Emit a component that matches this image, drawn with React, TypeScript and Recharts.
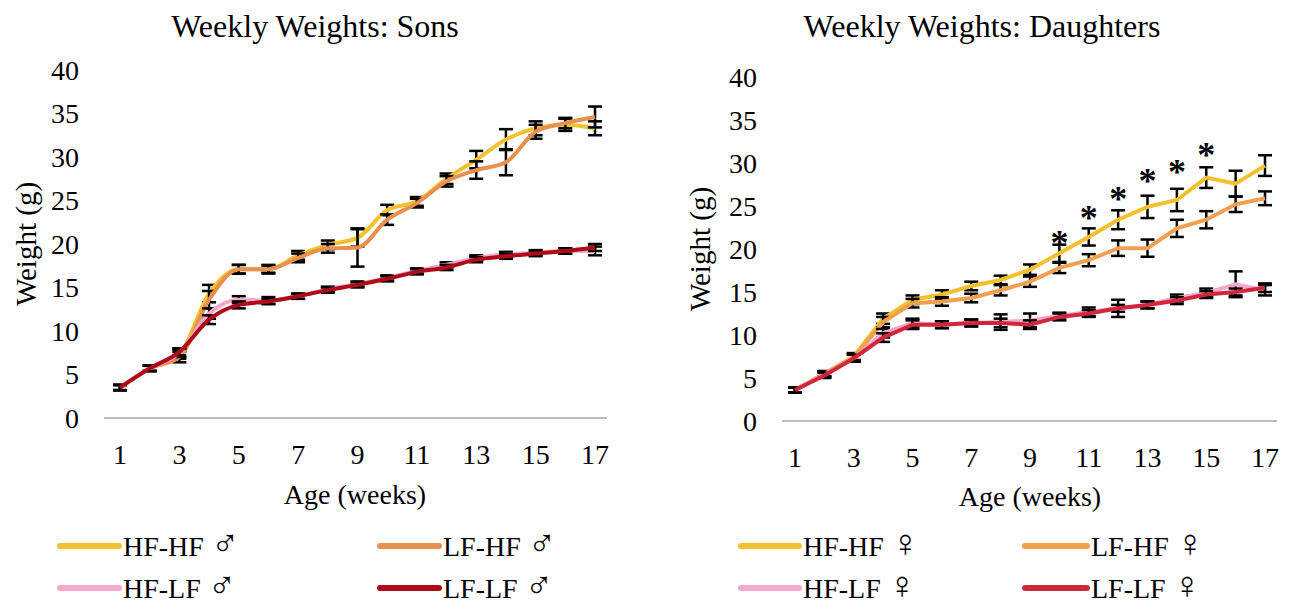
import {
  ComposedChart,
  Line,
  XAxis,
  YAxis,
  ErrorBar,
} from 'recharts';

// weeks of age on the x axis
const weeks = [1, 2, 3, 4, 5, 6, 7, 8, 9, 10, 11, 12, 13, 14, 15, 16, 17];
const xTicks = [1, 3, 5, 7, 9, 11, 13, 15, 17];
const yTicks = [0, 5, 10, 15, 20, 25, 30, 35, 40];

// sons (g)
const sonsHH = [3.5, 5.7, 7.3, 14.3, 17.1, 17.1, 18.7, 19.9, 20.7, 23.9, 24.9, 27.5, 29.7, 32.0, 33.3, 33.7, 33.3];
const sonsLH = [3.5, 5.7, 7.0, 13.6, 17.1, 17.1, 18.4, 19.5, 19.6, 22.8, 24.7, 27.2, 28.5, 29.4, 32.9, 33.9, 34.6];
const sonsHL = [3.5, 5.7, 7.5, 12.0, 13.6, 13.5, 14.0, 14.8, 15.4, 16.1, 16.9, 17.6, 18.4, 18.8, 19.0, 19.2, 19.2];
const sonsLL = [3.5, 5.7, 7.6, 11.3, 13.0, 13.4, 14.0, 14.7, 15.3, 16.0, 16.8, 17.3, 18.2, 18.6, 18.9, 19.2, 19.6];
const sonsHHErr = [0.3, 0.3, 0.5, 1.0, 0.5, 0.4, 0.5, 0.5, 1.0, 0.6, 0.5, 0.6, 1.0, 1.2, 0.8, 0.7, 0.8];
const sonsLHErr = [0.3, 0.3, 0.6, 1.0, 0.5, 0.5, 0.5, 0.5, 2.2, 0.6, 0.5, 0.6, 1.0, 1.5, 0.8, 0.6, 1.2];
const sonsHLErr = [0.3, 0.3, 0.5, 0.6, 0.4, 0.4, 0.3, 0.3, 0.3, 0.3, 0.3, 0.3, 0.3, 0.3, 0.3, 0.3, 0.5];
const sonsLLErr = [0.3, 0.3, 0.4, 0.5, 0.4, 0.3, 0.3, 0.3, 0.3, 0.3, 0.3, 0.3, 0.3, 0.3, 0.3, 0.3, 0.4];

// daughters (g)
const dauHH = [3.6, 5.5, 7.5, 11.9, 14.1, 14.7, 15.7, 16.4, 17.6, 19.5, 21.4, 23.4, 24.9, 25.7, 28.3, 27.6, 29.7];
const dauLH = [3.6, 5.5, 7.4, 11.5, 13.7, 13.9, 14.3, 15.2, 16.2, 17.8, 18.7, 20.1, 20.1, 22.4, 23.4, 25.2, 25.9];
const dauHL = [3.6, 5.4, 7.3, 10.2, 11.4, 11.2, 11.4, 11.5, 11.7, 12.2, 12.7, 13.1, 13.5, 14.3, 14.9, 15.9, 15.2];
const dauLL = [3.6, 5.3, 7.3, 9.7, 11.2, 11.2, 11.4, 11.4, 11.2, 12.1, 12.5, 13.1, 13.5, 14.0, 14.7, 15.0, 15.5];
const dauHHErr = [0.3, 0.3, 0.4, 0.6, 0.5, 0.5, 0.5, 0.5, 0.6, 1.0, 1.0, 1.1, 1.3, 1.3, 1.2, 1.5, 1.2];
const dauLHErr = [0.3, 0.3, 0.4, 0.6, 0.5, 0.5, 0.5, 0.6, 0.6, 0.6, 0.7, 0.9, 1.0, 1.0, 1.0, 0.9, 0.8];
const dauHLErr = [0.3, 0.3, 0.4, 0.5, 0.5, 0.4, 0.4, 0.9, 0.8, 0.4, 0.5, 1.0, 0.4, 0.4, 0.5, 1.5, 0.6];
const dauLLErr = [0.3, 0.3, 0.4, 0.5, 0.5, 0.4, 0.4, 0.5, 0.5, 0.4, 0.4, 0.4, 0.4, 0.4, 0.4, 0.4, 0.5];
// asterisks (significance) above HF-HF daughters
const dauSig = [null, null, null, null, null, null, null, null, null, 21.4, 24.3, 26.5, 28.6, 29.6, 31.6, null, null];

const FONT = '"Liberation Serif", "Times New Roman", serif';

const sonsColors = ['#f4c12e', '#e8904f', '#f3a8cc', '#ad0c18'];
const dauColors = ['#f4c12e', '#f0a04e', '#f3a8cc', '#d0283a'];

const sonsData = weeks.map((w, i) => ({
  week: w,
  hh: sonsHH[i], hhErr: sonsHHErr[i],
  lh: sonsLH[i], lhErr: sonsLHErr[i],
  hl: sonsHL[i], hlErr: sonsHLErr[i],
  ll: sonsLL[i], llErr: sonsLLErr[i],
}));

const dauData = weeks.map((w, i) => ({
  week: w,
  hh: dauHH[i], hhErr: dauHHErr[i],
  lh: dauLH[i], lhErr: dauLHErr[i],
  hl: dauHL[i], hlErr: dauHLErr[i],
  ll: dauLL[i], llErr: dauLLErr[i],
  sig: dauSig[i],
}));

const renderStar = (props: any) => {
  const { cx, cy, value, index } = props;
  if (value == null || cy == null) return <g key={`s${index}`} />;
  return (
    <text
      key={`s${index}`}
      x={cx}
      y={cy}
      dy='0.5em'
      textAnchor='middle'
      fontSize={36}
      fontWeight='bold'
      fontFamily={FONT}
      fill='#000'
    >
      *
    </text>
  );
};

function WeightChart({ data, colors, margin, padX, curve, stars }: any) {
  const keys = ['hh', 'lh', 'hl', 'll'];
  return (
    <ComposedChart width={640} height={480} data={data} margin={margin}>
      <XAxis
        dataKey='week'
        type='number'
        domain={[1, 17]}
        ticks={xTicks}
        padding={padX}
        height={40}
        tickLine={false}
        tickSize={0}
        tickMargin={26}
        axisLine={{ stroke: '#bdbdbd', strokeWidth: 2 }}
        tick={{ fontSize: 28, fill: '#000', fontFamily: FONT }}
      />
      <YAxis
        domain={[0, 40]}
        ticks={yTicks}
        width={60}
        axisLine={false}
        tickLine={false}
        tickSize={0}
        tickMargin={25}
        tick={{ fontSize: 28, fill: '#000', fontFamily: FONT }}
      />
      {keys.map((k, i) => (
        <Line
          key={k}
          dataKey={k}
          type={curve}
          stroke={colors[i]}
          strokeWidth={4}
          dot={false}
          activeDot={false}
          isAnimationActive={false}
        >
          <ErrorBar dataKey={`${k}Err`} direction='y' width={7} stroke='#000' strokeWidth={2.5} />
        </Line>
      ))}
      {stars && (
        <Line
          dataKey='sig'
          stroke='transparent'
          dot={renderStar}
          activeDot={false}
          isAnimationActive={false}
        />
      )}
    </ComposedChart>
  );
}

const legendSons = ['HF-HF', 'LF-HF', 'HF-LF', 'LF-LF'];
const legendDau = ['HF-HF', 'LF-HF', 'HF-LF', 'LF-LF'];

function Legend({ labels, colors, cols, rows, sym }: any) {
  return (
    <g>
      {labels.map((l: string, i: number) => {
        const c = cols[i % 2];
        const y = rows[Math.floor(i / 2)];
        return (
          <g key={l}>
            <line x1={c[0]} x2={c[1]} y1={y} y2={y} stroke={colors[i]} strokeWidth={6} strokeLinecap='round' />
            <text x={c[1] + 4} y={y + 10} fontSize={28} fontFamily={FONT} fill='#000'>
              {l}{' '}
              <tspan fontSize={38} fontFamily='"DejaVu Sans", sans-serif' fontWeight={200}>
                {sym}
              </tspan>
            </text>
          </g>
        );
      })}
    </g>
  );
}

export default function App() {
  return (
    <div
      style={{
        position: 'absolute',
        left: 0,
        top: 0,
        width: 1290,
        height: 609,
        background: '#fff',
        overflow: 'hidden',
        fontFamily: FONT,
      }}
    >
      <div style={{ position: 'absolute', left: 0, top: 0 }}>
        <WeightChart
          data={sonsData}
          colors={sonsColors}
          margin={{ top: 70, right: 33, left: 44, bottom: 22 }}
          padX={{ left: 16, right: 12 }}
          curve='monotone'
        />
      </div>
      <div style={{ position: 'absolute', left: 650, top: 0 }}>
        <WeightChart
          data={dauData}
          colors={dauColors}
          margin={{ top: 77, right: 13, left: 72, bottom: 19 }}
          padX={{ left: 13, right: 12 }}
          curve='linear'
          stars
        />
      </div>

      {/* titles, axis titles, legends */}
      <svg
        width={1290}
        height={609}
        style={{ position: 'absolute', left: 0, top: 0, pointerEvents: 'none' }}
      >
        <g fontFamily={FONT} fill='#000'>
          <text x={315} y={37} fontSize={32} textAnchor='middle'>Weekly Weights: Sons</text>
          <text x={982} y={37} fontSize={32} textAnchor='middle'>Weekly Weights: Daughters</text>
          <text x={355} y={504} fontSize={28} textAnchor='middle'>Age (weeks)</text>
          <text x={1030} y={506} fontSize={28} textAnchor='middle'>Age (weeks)</text>
          <text transform='translate(36,244) rotate(-90)' fontSize={29} textAnchor='middle'>Weight (g)</text>
          <text transform='translate(710,249) rotate(-90)' fontSize={29} textAnchor='middle'>Weight (g)</text>
        </g>
        <Legend
          labels={legendSons}
          colors={sonsColors}
          cols={[[60, 119], [380, 439]]}
          rows={[546, 588]}
          sym='♂'
        />
        <Legend
          labels={legendDau}
          colors={dauColors}
          cols={[[741, 799], [1025, 1087]]}
          rows={[546, 588]}
          sym='♀'
        />
      </svg>
    </div>
  );
}
